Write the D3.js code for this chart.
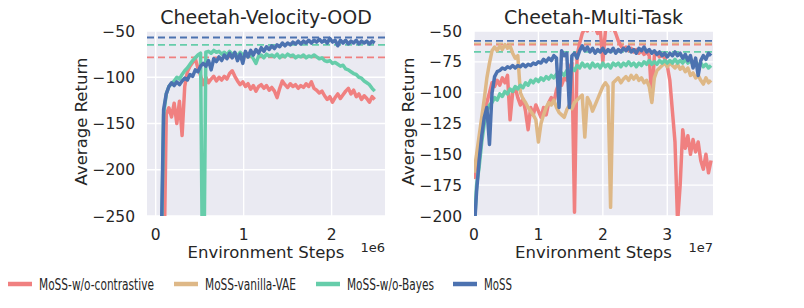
<!DOCTYPE html>
<html>
<head>
<meta charset="utf-8">
<script src="https://cdn.jsdelivr.net/npm/d3@7"></script>
<style>
  html, body { margin: 0; padding: 0; background: #ffffff; }
  svg { display: block; }
  text { font-family: "DejaVu Sans", sans-serif; fill: #262626; }
</style>
</head>
<body>
<svg id="chart" width="804" height="308"></svg>
<script>
// ---------- DATA ----------
const seriesNames = ["MoSS-w/o-contrastive", "MoSS-vanilla-VAE", "MoSS-w/o-Bayes", "MoSS"];
const seriesColors = ["#F08080", "#DEB887", "#66CDAA", "#4C72B0"];

// Left panel: Cheetah-Velocity-OOD (x in units of 1e6, step 0.03)
const leftTitle = "Cheetah-Velocity-OOD";
const leftStep = 0.03;
const leftYTicks = [-250, -200, -150, -100, -50];
const leftXTicks = [0, 1, 2];
const leftOffset = "1e6";
const leftContrastive = [-400,-400,-400,-330,-140,-133,-143,-128,-150,-126,-163,-110,-94,-88,-84,-80,-90,-98,-108,-100,
  -106,-102,-99,-104,-100,-103,-99,-102,-96,-93,-99,-104,-108,-105,-110,-107,-113,-109,-115,-110,
  -108,-112,-109,-114,-111,-115,-122,-112,-104,-108,-111,-107,-110,-108,-112,-109,-111,-107,-110,-105,
  -112,-114,-117,-115,-120,-124,-121,-127,-122,-118,-123,-119,-115,-112,-118,-114,-121,-118,-124,-120,
  -123,-127,-121,-124];
const leftBayes = [-400,-400,-320,-140,-118,-110,-107,-104,-100,-102,-97,-93,-90,-86,-82,-79,-76,-74,-400,-73,
  -72,-74,-71,-73,-72,-75,-73,-76,-72,-75,-74,-77,-73,-76,-74,-78,-75,-80,-85,-77,
  -76,-79,-75,-77,-76,-78,-75,-79,-76,-78,-75,-77,-76,-79,-77,-78,-76,-79,-77,-78,
  -76,-78,-80,-79,-82,-83,-82,-85,-84,-86,-88,-87,-91,-92,-94,-96,-97,-100,-101,-104,
  -106,-108,-112,-115];
const leftMoSS = [-400,-400,-300,-135,-118,-110,-106,-109,-105,-108,-104,-101,-103,-97,-99,-92,-94,-88,-85,-88,
  -82,-92,-80,-83,-78,-82,-76,-80,-74,-79,-73,-82,-75,-85,-72,-78,-71,-76,-70,-74,
  -68,-72,-67,-70,-66,-69,-65,-67,-63,-66,-63,-65,-62,-64,-61,-64,-61,-63,-60,-63,
  -60,-62,-59,-62,-60,-63,-58,-62,-60,-66,-60,-63,-60,-64,-61,-63,-60,-64,-61,-63,
  -61,-64,-61,-63];
const leftBest = [-78.5, null, -65, -57]; // dashed reference levels

// Right panel: Cheetah-Multi-Task (x in units of 1e7, step 0.04)
const rightTitle = "Cheetah-Multi-Task";
const rightStep = 0.04;
const rightYTicks = [-200, -175, -150, -125, -100, -75, -50];
const rightXTicks = [0, 1, 2, 3];
const rightOffset = "1e7";
const rightContrastive = [-170,-155,-140,-130,-118,-108,-100,-92,-95,-90,-94,-88,-92,-86,-122,-100,-96,-104,-110,-105,
  -115,-130,-112,-118,-110,-115,-120,-112,-118,-108,-104,-108,-98,-92,-94,-88,-90,-80,-76,-197,
  -70,-60,-52,-48,-50,-46,-49,-47,-52,-48,-75,-50,-46,-49,-47,-52,-58,-62,-65,-63,
  -66,-64,-67,-65,-68,-66,-69,-67,-70,-106,-70,-68,-71,-69,-72,-78,-90,-115,-140,-205,
  -175,-130,-145,-135,-150,-138,-148,-140,-155,-162,-150,-165,-155];
const rightVAE = [-165,-150,-135,-120,-105,-88,-76,-66,-63,-66,-62,-65,-61,-64,-62,-68,-72,-70,-100,-105,
  -108,-112,-115,-118,-122,-140,-125,-118,-112,-108,-110,-106,-112,-116,-118,-120,-114,-110,-113,-108,
  -106,-104,-102,-136,-104,-108,-115,-110,-105,-100,-95,-92,-95,-193,-92,-90,-88,-92,-89,-87,
  -90,-86,-89,-86,-90,-88,-92,-90,-95,-108,-88,-82,-80,-78,-76,-79,-76,-78,-80,-77,
  -81,-79,-83,-80,-86,-84,-88,-86,-90,-93,-88,-92,-90];
const rightBayes = [-215,-175,-160,-140,-125,-115,-110,-108,-104,-106,-101,-103,-99,-101,-97,-99,-95,-97,-94,-96,
  -92,-94,-90,-92,-89,-91,-88,-90,-87,-89,-86,-88,-85,-87,-84,-86,-82,-84,-80,-82,
  -78,-80,-76,-79,-77,-80,-76,-79,-77,-80,-76,-79,-77,-80,-76,-78,-76,-79,-76,-78,
  -75,-78,-76,-79,-76,-78,-75,-77,-74,-77,-75,-77,-74,-76,-74,-76,-74,-76,-73,-76,
  -74,-76,-73,-76,-74,-77,-75,-78,-76,-79,-77,-80,-78];
const rightMoSS = [-215,-180,-155,-135,-120,-112,-142,-100,-87,-83,-82,-80,-81,-79,-80,-78,-80,-78,-79,-77,
  -79,-77,-78,-76,-77,-75,-76,-73,-75,-72,-74,-70,-72,-112,-66,-70,-68,-112,-70,-68,
  -72,-66,-62,-66,-63,-67,-64,-68,-65,-67,-64,-68,-65,-67,-64,-68,-65,-67,-64,-66,
  -63,-67,-65,-68,-64,-66,-63,-67,-65,-68,-66,-69,-67,-70,-68,-71,-68,-70,-67,-70,
  -68,-72,-69,-74,-70,-80,-72,-86,-74,-70,-73,-68,-70];
const rightBest = [-61, -60, -67, -58];

// ---------- DRAW ----------
const svg = d3.select("#chart");
const plotTop = 31, plotBottom = 216;

const panels = [
  { title: leftTitle, step: leftStep, yTicks: leftYTicks, xTicks: leftXTicks, offset: leftOffset,
    xDomain: [-0.099, 2.607], yDomain: [-250, -50], range: [147, 385],
    series: [leftContrastive, null, leftBayes, leftMoSS], best: leftBest, clip: "clipL" },
  { title: rightTitle, step: rightStep, yTicks: rightYTicks, xTicks: rightXTicks, offset: rightOffset,
    xDomain: [0, 3.71], yDomain: [-200, -50], range: [474, 713],
    series: [rightContrastive, rightVAE, rightBayes, rightMoSS], best: rightBest, clip: "clipR" }
];

const fmt = v => String(v).replace("-", "\u2212");

panels.forEach(p => {
  const x = d3.scaleLinear().domain(p.xDomain).range(p.range);
  const y = d3.scaleLinear().domain(p.yDomain).range([plotBottom, plotTop]);
  const g = svg.append("g");
  const [x0, x1] = p.range;

  g.append("rect").attr("x", x0).attr("y", plotTop).attr("width", x1 - x0).attr("height", plotBottom - plotTop)
    .attr("fill", "#EAEAF2");

  svg.append("clipPath").attr("id", p.clip).append("rect")
    .attr("x", x0).attr("y", plotTop).attr("width", x1 - x0).attr("height", plotBottom - plotTop);

  // grid
  g.selectAll(".gy").data(p.yTicks).enter().append("line")
    .attr("x1", x0).attr("x2", x1).attr("y1", d => y(d)).attr("y2", d => y(d))
    .attr("stroke", "#fff").attr("stroke-width", 1.4);
  g.selectAll(".gx").data(p.xTicks).enter().append("line")
    .attr("x1", d => x(d)).attr("x2", d => x(d)).attr("y1", plotTop).attr("y2", plotBottom)
    .attr("stroke", "#fff").attr("stroke-width", 1.4);

  // tick labels
  g.selectAll(".ty").data(p.yTicks).enter().append("text")
    .attr("x", x0 - 12).attr("y", d => y(d)).attr("dy", "0.36em")
    .attr("text-anchor", "end").attr("font-size", 15.5).text(fmt);
  g.selectAll(".tx").data(p.xTicks).enter().append("text")
    .attr("x", d => x(d)).attr("y", plotBottom + 24)
    .attr("text-anchor", "middle").attr("font-size", 15.5).text(fmt);

  // offset text
  g.append("text").attr("x", x1).attr("y", plotBottom + 36).attr("text-anchor", "end")
    .attr("font-size", 13).text(p.offset);

  // axis labels
  g.append("text").attr("x", (x0 + x1) / 2).attr("y", plotBottom + 42).attr("text-anchor", "middle")
    .attr("font-size", 16.5).text("Environment Steps");
  g.append("text").attr("transform", `translate(${x0 - 60},${(plotTop + plotBottom) / 2 - 2}) rotate(-90)`)
    .attr("text-anchor", "middle").attr("font-size", 16.5).text("Average Return");

  // title
  g.append("text").attr("x", (x0 + x1) / 2).attr("y", 24).attr("text-anchor", "middle")
    .attr("font-size", 19).text(p.title);

  const plot = g.append("g").attr("clip-path", `url(#${p.clip})`);

  // dashed best levels
  p.best.forEach((b, i) => {
    if (b === null || p.series[i] === null) return;
    plot.append("line").attr("x1", x0).attr("x2", x1).attr("y1", y(b)).attr("y2", y(b))
      .attr("stroke", seriesColors[i]).attr("stroke-width", 1.8).attr("stroke-dasharray", "7,4");
  });

  const line = d3.line().x((d, i) => x(i * p.step)).y(d => y(d));
  p.series.forEach((s, i) => {
    if (!s) return;
    plot.append("path").attr("d", line(s)).attr("fill", "none")
      .attr("stroke", seriesColors[i]).attr("stroke-width", 3.5)
      .attr("stroke-linejoin", "round");
  });
});

// legend (the reference legend text is horizontally condensed)
const legendX = [8, 174, 316, 453];
const legendTextW = [115, 91, 87, 28];
const lg = svg.append("g");
seriesNames.forEach((n, i) => {
  lg.append("line").attr("x1", legendX[i]).attr("x2", legendX[i] + 24).attr("y1", 284).attr("y2", 284)
    .attr("stroke", seriesColors[i]).attr("stroke-width", 4.5);
  lg.append("text").attr("x", legendX[i] + 31).attr("y", 284).attr("dy", "0.36em")
    .attr("font-size", 16.5).attr("textLength", legendTextW[i]).attr("lengthAdjust", "spacingAndGlyphs")
    .text(n);
});
</script>
</body>
</html>
